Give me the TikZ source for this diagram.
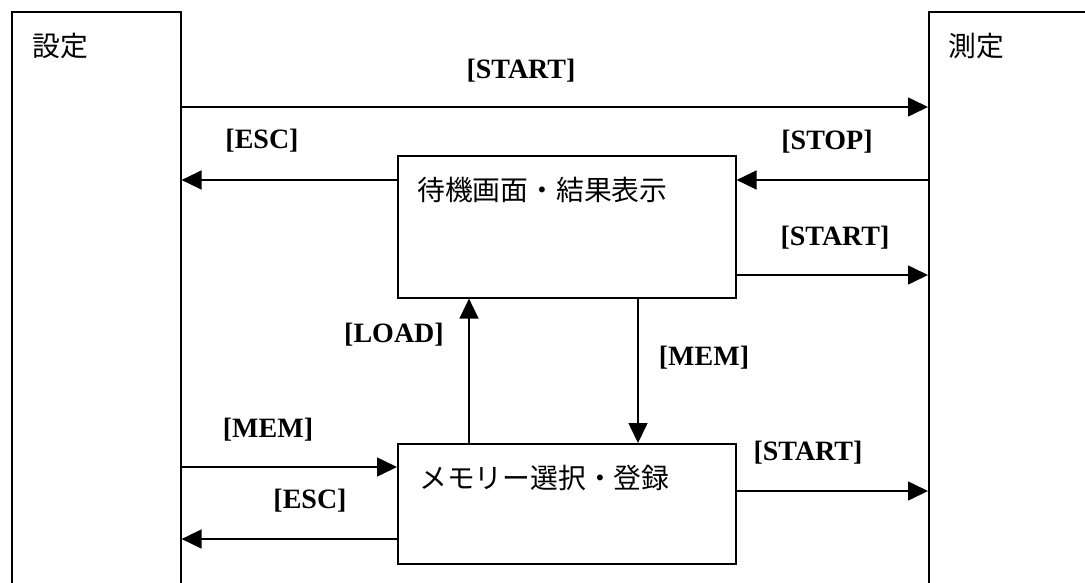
\documentclass[tikz,border=0pt]{standalone}
\usepackage{fontspec}
\setmainfont{Liberation Serif}
\newfontfamily\cjk{Noto Sans CJK JP}
\usetikzlibrary{arrows.meta}
\tikzset{
  blk/.style={draw=black, line width=1.6pt, fill=white, anchor=north west, inner sep=0pt},
  lbl/.style={font=\bfseries\fontsize{28}{30}\selectfont, inner sep=0pt, anchor=center},
  jtxt/.style={font=\cjk\fontsize{27.8}{30}\selectfont, inner sep=0pt, anchor=west},
  conn/.style={line width=1.6pt, -{Triangle[length=20pt,width=19pt]}}
}
\begin{document}
\begin{tikzpicture}[x=1pt,y=-1pt]
\useasboundingbox (0,0) rectangle (1085,582);
\clip (0,0) rectangle (1085,582);
\fill[white] (0,0) rectangle (1085,582);
% boxes
\node[blk, minimum width=169pt, minimum height=640pt] (L) at (11,11) {};
\node[blk, minimum width=200pt, minimum height=640pt] (R) at (928,11) {};
\node[blk, minimum width=338pt, minimum height=142pt] (B1) at (397,155) {};
\node[blk, minimum width=338pt, minimum height=120pt] (B2) at (397,443) {};
% box texts
\node[jtxt] (Lt) at (32,46) {設定};
\node[jtxt] (Rt) at (948,46) {測定};
\node[jtxt] (B1t) at (417,190) {待機画面・結果表示};
\node[jtxt] (B2t) at (419,478) {メモリー選択・登録};
% level coordinates
\coordinate (y107) at (0,107);
\coordinate (y180) at (0,180);
\coordinate (y275) at (0,275);
\coordinate (y467) at (0,467);
\coordinate (y491) at (0,491);
\coordinate (y539) at (0,539);
\coordinate (x469) at (469,0);
\coordinate (x638) at (638,0);
% connectors
\draw[conn] (L.east |- y107) -- (R.west |- y107);
\draw[conn] (B1.west |- y180) -- (L.east |- y180);
\draw[conn] (R.west |- y180) -- (B1.east |- y180);
\draw[conn] (B1.east |- y275) -- (R.west |- y275);
\draw[conn] (B2.north -| x469) -- (B1.south -| x469);
\draw[conn] (B1.south -| x638) -- (B2.north -| x638);
\draw[conn] (L.east |- y467) -- (B2.west |- y467);
\draw[conn] (B2.west |- y539) -- (L.east |- y539);
\draw[conn] (B2.east |- y491) -- (R.west |- y491);
% labels
\node[lbl] (l1) at (521,71) {[START]};
\node[lbl] (l2) at (262,141) {[ESC]};
\node[lbl] (l3) at (827,142) {[STOP]};
\node[lbl] (l4) at (835,238) {[START]};
\node[lbl] (l5) at (394,335) {[LOAD]};
\node[lbl] (l6) at (704,358) {[MEM]};
\node[lbl] (l7) at (268,430) {[MEM]};
\node[lbl] (l8) at (310,501) {[ESC]};
\node[lbl] (l9) at (808,453) {[START]};
\end{tikzpicture}
\end{document}
